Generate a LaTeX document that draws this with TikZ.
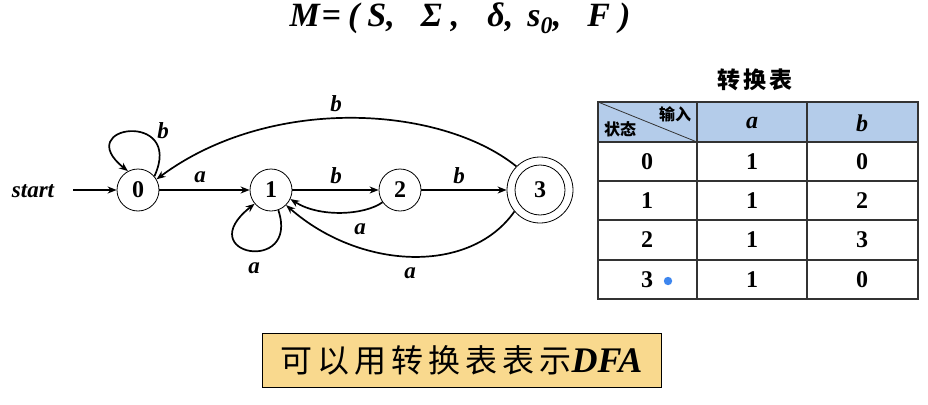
\documentclass[tikz,border=0pt]{standalone}
\usepackage{fontspec}
\setmainfont{Liberation Serif}
\newfontfamily\cjk{Noto Sans CJK SC}
\usetikzlibrary{arrows.meta}
\definecolor{hdrblue}{HTML}{B4CCEA}
\definecolor{boxorange}{HTML}{F9D98E}
\definecolor{dotblue}{HTML}{3D86EE}
\definecolor{gridgray}{HTML}{333333}
\begin{document}
\begin{tikzpicture}[x=1pt,y=-1pt,
  state/.style={circle,draw,line width=0.8pt,minimum size=42pt,inner sep=0pt,font=\fontsize{24}{24}\selectfont\bfseries},
  arr/.style={line width=1.7pt,-{Stealth[length=9pt,width=7pt]}},
  lab/.style={font=\fontsize{23}{23}\selectfont\bfseries\itshape,inner sep=0pt},
  cell/.style={font=\fontsize{24}{24}\selectfont\bfseries,inner sep=0pt},
  small/.style={font=\cjk\fontsize{16}{16}\selectfont\bfseries,inner sep=0pt}]
\useasboundingbox (0,0) rectangle (928,404);
% title
\node[font=\fontsize{34}{34}\selectfont\bfseries\itshape,inner sep=0pt] (title) at (460,18)
  {M\hspace{2pt}=\hspace{7pt}(\hspace{8pt}S,\hspace{26pt}Σ\hspace{9pt},\hspace{28pt}δ,\hspace{14pt}s\textsubscript{0},\hspace{26pt}F\hspace{9pt})};
% automaton
\node[lab] (start) at (33,191) {start};
\coordinate (st) at (73,190);
\node[state] (n0) at (138,190) {0};
\node[state] (n1) at (271,190) {1};
\node[state] (n2) at (400,190) {2};
\node[state,minimum size=66pt] (n3) at (540,190) {3};
\node[circle,draw,line width=0.8pt,minimum size=50pt,inner sep=0pt] (n3in) at (540,190) {};
\draw[arr] (st) -- (n0);
\draw[arr] (n0) -- (n1);
\draw[arr] (n1) -- (n2);
\draw[arr] (n2) -- (n3);
\draw[arr] (n2.-145) .. controls (365,215) and (320,218) .. (n1.-25);
\draw[arr] (n3.-140) .. controls (470,275) and (360,270) .. (n1.-45);
\draw[arr] (n3.135) .. controls (440,105) and (270,95) .. (n0.30);
\draw[arr] (n0.40) .. controls (185,110) and (70,125) .. (n0.118);
\draw[arr] (n1.-70) .. controls (300,275) and (190,255) .. (n1.-140);
\node[lab] (l0) at (200,177) {a};
\node[lab] (l1) at (336,176) {b};
\node[lab] (l2) at (459,176) {b};
\node[lab] (l3) at (360,229) {a};
\node[lab] (l4) at (410,273) {a};
\node[lab] (l5) at (336,104) {b};
\node[lab] (l6) at (163,131) {b};
\node[lab] (l7) at (254,268) {a};
% table
\node[font=\cjk\fontsize{23}{23}\selectfont\bfseries,inner sep=0pt] (ttitle) at (755,80) {转\hspace{3pt}换\hspace{3pt}表};
\fill[hdrblue] (598,102) rectangle (918,142);
\draw[gridgray,line width=0.8pt] (598,102) -- (697,142);
\draw[gridgray,line width=1.4pt] (598,102) rectangle (918,299);
\foreach \xx in {697,807} \draw[gridgray,line width=1.4pt] (\xx,102) -- (\xx,299);
\foreach \yy in {142,181,220,260} \draw[gridgray,line width=1.4pt] (598,\yy) -- (918,\yy);
\node[small] (hin) at (675,114) {输入};
\node[small] (hst) at (620,129) {状态};
\node[lab,font=\fontsize{24}{24}\selectfont\bfseries\itshape] (ha) at (752,123) {a};
\node[lab,font=\fontsize{24}{24}\selectfont\bfseries\itshape] (hb) at (862,123) {b};
\node[cell] (r0) at (647,162) {0};
\node[cell] (r0a) at (752,162) {1};
\node[cell] (r0b) at (862,162) {0};
\node[cell] (r1) at (647,201) {1};
\node[cell] (r1a) at (752,201) {1};
\node[cell] (r1b) at (862,201) {2};
\node[cell] (r2) at (647,240) {2};
\node[cell] (r2a) at (752,240) {1};
\node[cell] (r2b) at (862,240) {3};
\node[cell] (r3) at (647,280) {3};
\node[cell] (r3a) at (752,280) {1};
\node[cell] (r3b) at (862,280) {0};
\fill[dotblue] (668,281) circle (4.2pt);
% bottom box
\node[draw,line width=1pt,fill=boxorange,minimum width=399pt,minimum height=54pt,inner sep=0pt] (box) at (461.5,360)
  {{\cjk\fontsize{32}{32}\selectfont 可\hspace{5pt}以\hspace{5pt}用\hspace{5pt}转\hspace{5pt}换\hspace{5pt}表\hspace{5pt}表\hspace{5pt}示}{\fontsize{36}{36}\selectfont\bfseries\itshape DFA}};
\end{tikzpicture}
\end{document}
